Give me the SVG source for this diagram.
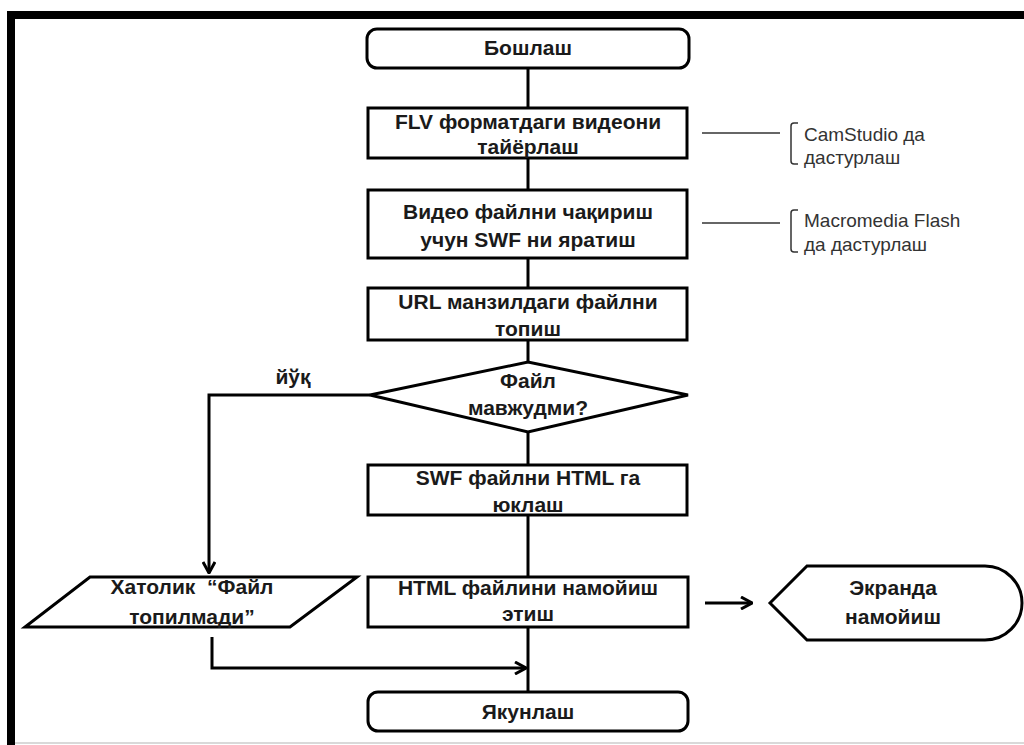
<svg xmlns="http://www.w3.org/2000/svg" width="1024" height="745" viewBox="0 0 1024 745">
<defs>
<style>
.shape{fill:#fff;stroke:#000;stroke-width:3;stroke-linejoin:miter}
.line{fill:none;stroke:#000;stroke-width:3}
.t{font-family:"Liberation Sans",Arial,sans-serif;font-weight:bold;font-size:21px;fill:#1a1a1a;text-anchor:middle}
.note{font-family:"Liberation Sans",Arial,sans-serif;font-size:19px;fill:#333}
.nline{fill:none;stroke:#333;stroke-width:1.5}
</style>
<marker id="arr" viewBox="0 0 14 14" refX="13" refY="7" markerWidth="14" markerHeight="14" orient="auto" markerUnits="userSpaceOnUse">
<path d="M2,1 L13,7 L2,13" fill="none" stroke="#000" stroke-width="3"/>
</marker>
</defs>
<rect x="0" y="0" width="1024" height="745" fill="#fff"/>
<g id="frame">
<rect x="7" y="11" width="1017" height="8" fill="#000"/>
<rect x="7" y="11" width="8" height="734" fill="#000"/>
<line x1="15" y1="743" x2="1024" y2="743" stroke="#ccc" stroke-width="1.5"/>
</g>
<g id="connectors">
<line class="line" x1="528" y1="68" x2="528" y2="108"/>
<line class="line" x1="528" y1="158" x2="528" y2="190"/>
<line class="line" x1="528" y1="258" x2="528" y2="288"/>
<line class="line" x1="528" y1="340" x2="528" y2="362"/>
<line class="line" x1="528" y1="432" x2="528" y2="465"/>
<line class="line" x1="528" y1="515" x2="528" y2="577"/>
<line class="line" x1="528" y1="627" x2="528" y2="692"/>
<path class="line" d="M370,395 L209,395 L209,573" marker-end="url(#arr)"/>
<path class="line" d="M212,637 L212,668 L526,668" marker-end="url(#arr)"/>
<path class="line" d="M705,603 L752,603" marker-end="url(#arr)"/>
<text class="t" x="293" y="384">йўқ</text>
</g>
<g id="start">
<rect class="shape" x="367" y="29" width="322" height="39" rx="10"/>
<text class="t" x="528" y="55">Бошлаш</text>
</g>
<g id="flv">
<rect class="shape" x="368" y="108" width="319" height="50"/>
<text class="t" x="528" y="129">FLV форматдаги видеони</text>
<text class="t" x="528" y="154">тайёрлаш</text>
</g>
<g id="swfcreate">
<rect class="shape" x="368" y="190" width="319" height="68"/>
<text class="t" x="528" y="219">Видео файлни чақириш</text>
<text class="t" x="528" y="247">учун SWF ни яратиш</text>
</g>
<g id="url">
<rect class="shape" x="368" y="288" width="319" height="52"/>
<text class="t" x="528" y="309">URL манзилдаги файлни</text>
<text class="t" x="528" y="336">топиш</text>
</g>
<g id="decision">
<polygon class="shape" points="370,395 528,362 688,395 528,432"/>
<text class="t" x="528" y="388">Файл</text>
<text class="t" x="528" y="415">мавжудми?</text>
</g>
<g id="swfload">
<rect class="shape" x="368" y="465" width="319" height="50"/>
<text class="t" x="528" y="485">SWF файлни HTML га</text>
<text class="t" x="528" y="512">юклаш</text>
</g>
<g id="html">
<rect class="shape" x="368" y="577" width="320" height="50"/>
<text class="t" x="528" y="595">HTML файлини намойиш</text>
<text class="t" x="528" y="621">этиш</text>
</g>
<g id="error">
<polygon class="shape" points="90,577 357,577 290,627 25,627"/>
<text class="t" x="192" y="594" xml:space="preserve">Хатолик  “Файл</text>
<text class="t" x="192" y="624">топилмади”</text>
</g>
<g id="display">
<path class="shape" d="M770,603 L807,566 L985,566 A37,37 0 0 1 985,640 L807,640 Z"/>
<text class="t" x="893" y="595">Экранда</text>
<text class="t" x="893" y="624">намойиш</text>
</g>
<g id="end">
<rect class="shape" x="368" y="692" width="320" height="39" rx="10"/>
<text class="t" x="528" y="719">Якунлаш</text>
</g>
<g id="note1">
<line class="nline" x1="702" y1="133" x2="780" y2="133"/>
<path class="nline" d="M798,123 L794,123 Q791,123 791,126 L791,161 Q791,164 794,164 L798,164"/>
<text class="note" x="804" y="141">CamStudio да</text>
<text class="note" x="804" y="164">дастурлаш</text>
</g>
<g id="note2">
<line class="nline" x1="702" y1="223" x2="780" y2="223"/>
<path class="nline" d="M798,210 L794,210 Q791,210 791,213 L791,249 Q791,252 794,252 L798,252"/>
<text class="note" x="804" y="227">Macromedia Flash</text>
<text class="note" x="804" y="251">да дастурлаш</text>
</g>
</svg>
